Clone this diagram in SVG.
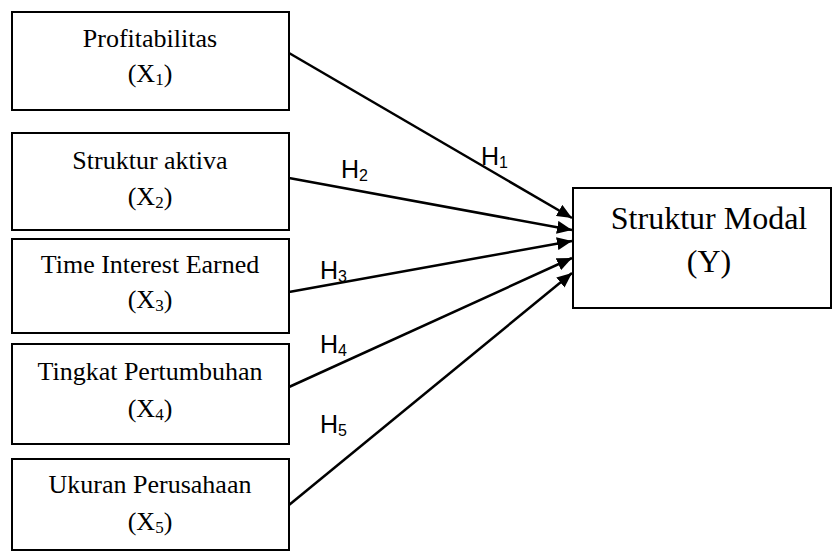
<svg xmlns="http://www.w3.org/2000/svg" width="833" height="556" viewBox="0 0 833 556">
<style>
.box{fill:#fff;stroke:#000;stroke-width:2}
.t{font-family:"Liberation Serif","Times New Roman",serif;font-size:26px;fill:#000;text-anchor:middle}
.ty{font-family:"Liberation Serif","Times New Roman",serif;font-size:32px;fill:#000;text-anchor:middle}
.sub{font-size:17px}
.h{font-family:"Liberation Sans",Arial,sans-serif;font-size:25px;fill:#000}
.hs{font-size:16px}
.c{stroke:#000;stroke-width:2.5;fill:none;marker-end:url(#ah)}
</style>
<defs>
<marker id="ah" markerUnits="userSpaceOnUse" markerWidth="15" markerHeight="13" refX="15" refY="6.5" orient="auto">
<path d="M0,0 L15,6.5 L0,13 Z" fill="#000"/>
</marker>
</defs>
<rect width="833" height="556" fill="#fff"/>
<g id="x1">
<rect class="box" x="12" y="12" width="277" height="98"/>
<text class="t" x="150" y="47">Profitabilitas</text>
<text class="t" x="150" y="82">(X<tspan class="sub" dy="3">1</tspan><tspan dy="-3">)</tspan></text>
</g>
<g id="x2">
<rect class="box" x="12" y="133" width="277" height="97"/>
<text class="t" x="150" y="169">Struktur aktiva</text>
<text class="t" x="150" y="205">(X<tspan class="sub" dy="3">2</tspan><tspan dy="-3">)</tspan></text>
</g>
<g id="x3">
<rect class="box" x="12" y="239" width="277" height="94"/>
<text class="t" x="150" y="273">Time Interest Earned</text>
<text class="t" x="150" y="308">(X<tspan class="sub" dy="3">3</tspan><tspan dy="-3">)</tspan></text>
</g>
<g id="x4">
<rect class="box" x="12" y="344" width="277" height="100"/>
<text class="t" x="150" y="380">Tingkat Pertumbuhan</text>
<text class="t" x="150" y="417">(X<tspan class="sub" dy="3">4</tspan><tspan dy="-3">)</tspan></text>
</g>
<g id="x5">
<rect class="box" x="12" y="459" width="277" height="91"/>
<text class="t" x="150" y="493">Ukuran Perusahaan</text>
<text class="t" x="150" y="530">(X<tspan class="sub" dy="3">5</tspan><tspan dy="-3">)</tspan></text>
</g>
<g id="y">
<rect class="box" x="573" y="188" width="258" height="120"/>
<text class="ty" x="709" y="229">Struktur Modal</text>
<text class="ty" x="709" y="272">(Y)</text>
</g>
<g id="connectors">
<line class="c" x1="289" y1="53" x2="572" y2="218"/>
<line class="c" x1="289" y1="178" x2="572" y2="230"/>
<line class="c" x1="289" y1="292" x2="572" y2="241"/>
<line class="c" x1="289" y1="387" x2="572" y2="258"/>
<line class="c" x1="289" y1="505" x2="572" y2="273"/>
</g>
<g id="labels">
<text class="h" x="481" y="165">H<tspan class="hs" dy="3">1</tspan></text>
<text class="h" x="341" y="178">H<tspan class="hs" dy="3">2</tspan></text>
<text class="h" x="320" y="279">H<tspan class="hs" dy="3">3</tspan></text>
<text class="h" x="320" y="353">H<tspan class="hs" dy="3">4</tspan></text>
<text class="h" x="320" y="433">H<tspan class="hs" dy="3">5</tspan></text>
</g>
</svg>
